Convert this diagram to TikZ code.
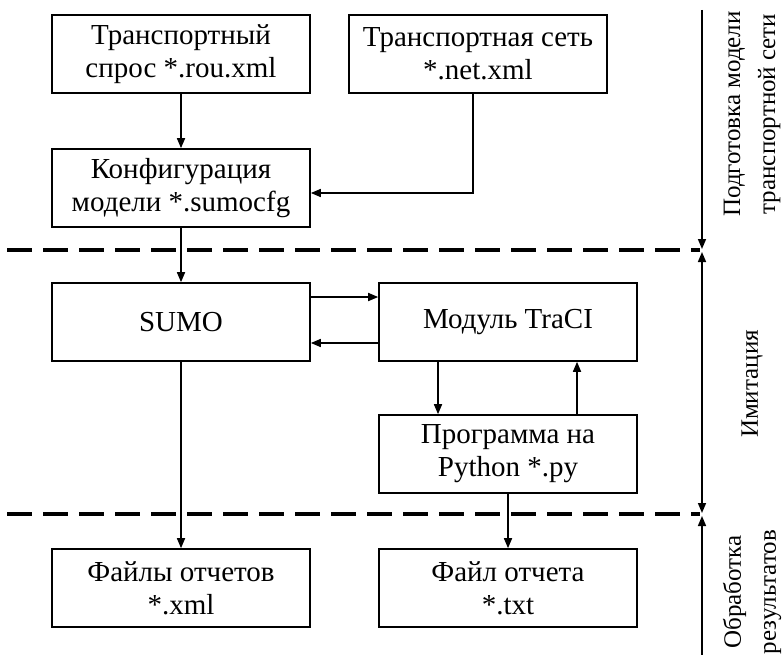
\documentclass[tikz,border=0pt]{standalone}
\usepackage{fontspec}
\setmainfont{Liberation Serif}
\usetikzlibrary{arrows.meta}
\begin{document}
\begin{tikzpicture}[x=1pt,y=-1pt,
  blk/.style={draw,line width=1.6pt,minimum width=258pt,minimum height=78pt,
    inner sep=0pt,align=center,font=\fontsize{29}{33}\selectfont},
  tip/.style={Triangle[length=10pt,width=8pt]},
  flow/.style={line width=1.6pt,-{Triangle[length=10pt,width=8pt]}},
  sep/.style={line width=3.5pt,dash pattern=on 25pt off 11pt},
  side/.style={rotate=90,align=center,font=\fontsize{25}{35}\selectfont},
  axis/.style={line width=1.6pt}]
\useasboundingbox (0,0) rectangle (784,655);
\fill[white] (0,0) rectangle (784,655);

% blocks
\node[blk] (dem)  at (181,54)  {Транспортный\\спрос *.rou.xml};
\node[blk] (net)  at (478,54)  {Транспортная сеть\\*.net.xml};
\node[blk] (cfg)  at (181,188) {Конфигурация\\модели *.sumocfg};
\node[blk] (sumo) at (181,322) {SUMO};
\node[blk] (traci) at (508,322) {Модуль TraCI};
\node[blk] (py)   at (508,454) {Программа на\\Python *.py};
\node[blk] (rep)  at (181,588) {Файлы отчетов\\*.xml};
\node[blk] (txt)  at (508,588) {Файл отчета\\*.txt};

% stage separators
\coordinate (s1a) at (7,250);   \coordinate (s1b) at (700,250);
\coordinate (s2a) at (7,514);   \coordinate (s2b) at (700,514);
\draw[sep] (s1a) -- (s1b);
\draw[sep] (s2a) -- (s2b);

% data flow
\draw[flow] (dem) -- (cfg);
\draw[flow] ([xshift=-5pt]net.south) |- ([yshift=-5pt]cfg.east);
\draw[flow] (cfg) -- (sumo);
\draw[flow] ([yshift=25pt]sumo.east) -- ([yshift=25pt]traci.west);
\draw[flow] ([yshift=-21pt]traci.west) -- ([yshift=-21pt]sumo.east);
\draw[flow] ([xshift=-70pt]traci.south) -- ([xshift=-70pt]py.north);
\draw[flow] ([xshift=69pt]py.north) -- ([xshift=69pt]traci.south);
\draw[flow] (sumo) -- (rep);
\draw[flow] (py) -- (txt);

% stage axis
\coordinate (a0) at (702,10);
\coordinate (a1) at (702,249);
\coordinate (a2) at (702,252);
\coordinate (a3) at (702,513);
\coordinate (a4) at (702,516);
\coordinate (a5) at (702,655);
\draw[axis,-{Triangle[length=10pt,width=8pt]}] (a0) -- (a1);
\draw[axis,{Triangle[length=10pt,width=8pt]}-{Triangle[length=10pt,width=8pt]}] (a2) -- (a3);
\draw[axis,{Triangle[length=10pt,width=8pt]}-] (a4) -- (a5);

% stage labels
\node[side] (l1) at (752,114) {Подготовка модели\\транспортной сети};
\node[side] (l2) at (752,384) {Имитация};
\node[side] (l3) at (752,592) {Обработка\\результатов};
\end{tikzpicture}
\end{document}
